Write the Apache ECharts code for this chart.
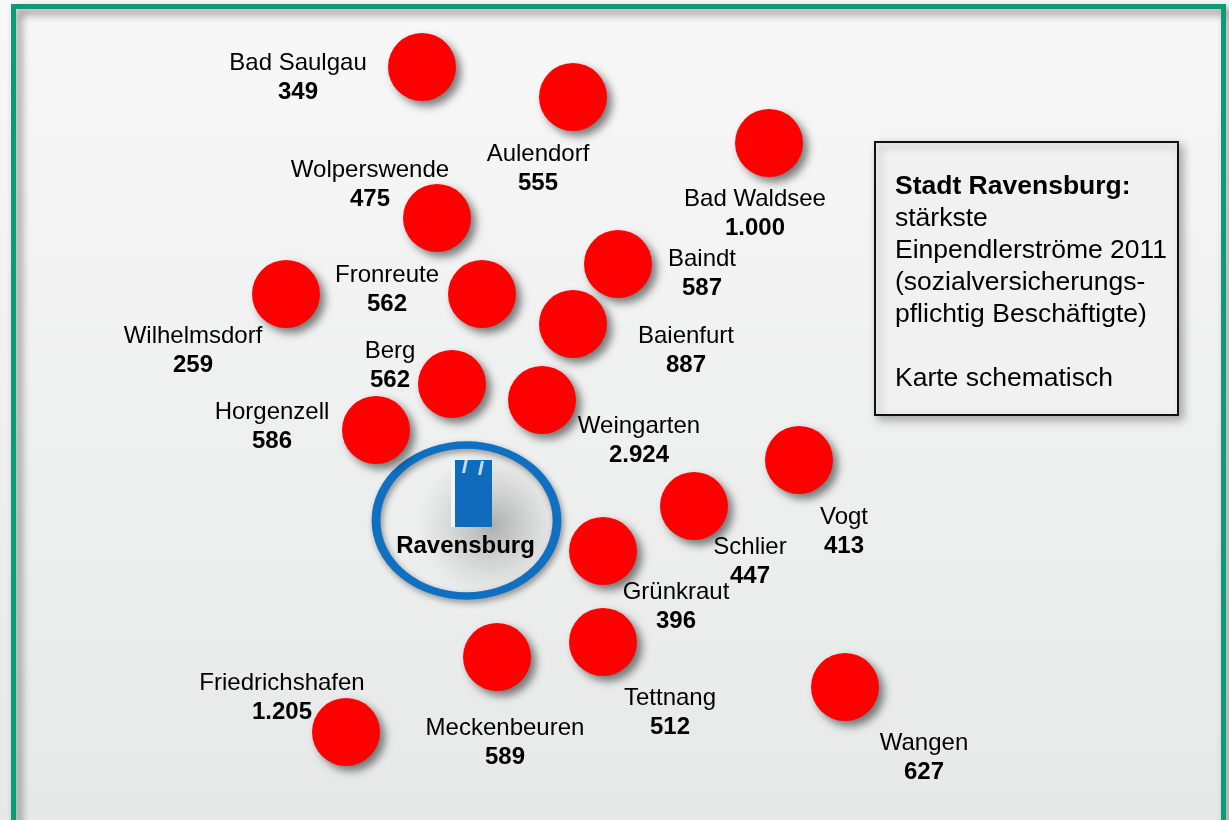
<!DOCTYPE html>
<html>
<head>
<meta charset="utf-8">
<style>
html, body { margin: 0; padding: 0; background: #f7f7f7; }
#chart { width: 1229px; height: 820px; }
</style>
<script src="https://cdn.jsdelivr.net/npm/echarts@6/dist/echarts.min.js"></script>
</head>
<body>
<div id="chart"></div>
<script>
// Gemeinden, Einpendler 2011
const towns = ['Bad Saulgau', 'Aulendorf', 'Bad Waldsee', 'Wolperswende', 'Fronreute', 'Baindt', 'Wilhelmsdorf', 'Baienfurt', 'Berg', 'Weingarten', 'Horgenzell', 'Vogt', 'Schlier', 'Grünkraut', 'Meckenbeuren', 'Tettnang', 'Friedrichshafen', 'Wangen'];
const commuters = ['349', '555', '1.000', '475', '562', '587', '259', '887', '562', '2.924', '586', '413', '447', '396', '589', '512', '1.205', '627'];
// Kreise, schematische Kartenposition
const circleX = [422, 573, 769, 437, 482, 618, 286, 573, 452, 542, 376, 799, 694, 603, 497, 603, 346, 845];
const circleY = [67, 97, 143, 218, 294, 264, 294, 324, 384, 400, 430, 460, 506, 551, 657, 642, 732, 687];
// Beschriftung, Mitte des Namens
const labelX = [298, 538, 755, 370, 387, 702, 193, 686, 390, 639, 272, 844, 750, 676, 505, 670, 282, 924];
const labelY = [78, 169, 214, 185, 290, 274, 351, 351, 366, 441, 427, 532, 562, 607, 743, 713, 698, 758];

const infoLines = ['{b|Stadt Ravensburg:}', 'stärkste', 'Einpendlerströme 2011', '(sozialversicherungs-', 'pflichtig Beschäftigte)', '', 'Karte schematisch'];

const font = '"Liberation Sans", Arial, sans-serif';
const chart = echarts.init(document.getElementById('chart'));

// schräge Lichtstreifen am Turm
const glint = 'path://M3,0 L6,0 L3,12 L0,12 Z';

chart.setOption({
  animation: false,
  backgroundColor: new echarts.graphic.LinearGradient(0, 0, 0, 1, [
    { offset: 0, color: '#f8f8f8' },
    { offset: 1, color: '#e7e8e8' }
  ]),
  grid: { left: 0, top: 0, width: 1229, height: 820 },
  xAxis: { type: 'value', min: 0, max: 1229, show: false },
  yAxis: { type: 'value', min: 0, max: 820, inverse: true, show: false },
  graphic: [
    // Rahmen, unten ausserhalb des Bildes
    {
      type: 'rect', z: -9, silent: true,
      shape: { x: 13.5, y: 6.5, width: 1210, height: 860 },
      style: {
        fill: null, stroke: '#0e9a78', lineWidth: 5,
        shadowColor: 'rgba(0,0,0,0.5)', shadowBlur: 9, shadowOffsetX: 5, shadowOffsetY: 5
      }
    },
    // Infokasten
    {
      type: 'rect', z: 5, silent: true,
      shape: { x: 875, y: 142, width: 303, height: 273 },
      style: {
        fill: '#f1f1f1', stroke: '#111', lineWidth: 2,
        shadowColor: 'rgba(0,0,0,0.3)', shadowBlur: 9, shadowOffsetX: 4, shadowOffsetY: 4
      }
    },
    {
      type: 'text', z: 6, silent: true, x: 895, y: 171,
      style: {
        text: infoLines.join('\n'),
        font: '26.5px ' + font,
        fill: '#000',
        lineHeight: 32,
        rich: { b: { fontWeight: 'bold', fontSize: 26.5, fontFamily: font, lineHeight: 32 } }
      }
    }
  ],
  series: [
    // Schatten hinter Ravensburg
    {
      type: 'scatter', silent: true, z: 1,
      data: [[492, 525]],
      symbol: 'circle', symbolSize: 150,
      itemStyle: {
        opacity: 1,
        color: new echarts.graphic.RadialGradient(0.5, 0.5, 0.5, [
          { offset: 0, color: 'rgba(110,110,110,0.5)' },
          { offset: 1, color: 'rgba(160,160,160,0)' }
        ])
      }
    },
    // Ring Ravensburg
    {
      type: 'scatter', silent: true, z: 2,
      data: [[466.5, 520.5]],
      symbol: 'circle', symbolSize: [181, 151],
      itemStyle: {
        opacity: 1, color: 'transparent', borderColor: '#0f6fc0', borderWidth: 8,
        shadowColor: 'rgba(0,0,0,0.4)', shadowBlur: 6, shadowOffsetX: 2, shadowOffsetY: 3
      }
    },
    // Turm, heller Rand links
    {
      type: 'scatter', silent: true, z: 3,
      data: [[453, 493.5]],
      symbol: 'rect', symbolSize: [4, 67],
      itemStyle: { opacity: 1, color: '#f2f4f6' }
    },
    {
      type: 'scatter', silent: true, z: 3,
      data: [[473.5, 493.5]],
      symbol: 'rect', symbolSize: [37, 67],
      itemStyle: { opacity: 1, color: '#0f6cbd' },
      label: {
        show: true, position: 'inside', offset: [-8, 53],
        formatter: 'Ravensburg',
        fontFamily: font, fontSize: 24, fontWeight: 'bold', color: '#000'
      }
    },
    {
      type: 'scatter', silent: true, z: 3,
      data: [[465, 466], [481, 468]],
      symbol: glint, symbolSize: [6, 14],
      itemStyle: { opacity: 0.8, color: '#f4f6f8' }
    },
    {
      name: 'Einpendler',
      type: 'scatter', z: 4,
      data: circleX.map((x, i) => [x, circleY[i]]),
      symbol: 'circle', symbolSize: 68,
      itemStyle: {
        opacity: 1, color: '#ff0000',
        shadowColor: 'rgba(0,0,0,0.5)', shadowBlur: 9, shadowOffsetX: 5, shadowOffsetY: 5
      }
    },
    {
      name: 'Beschriftung',
      type: 'scatter', z: 6, silent: true,
      data: labelX.map((x, i) => [x, labelY[i]]),
      symbolSize: 0,
      itemStyle: { opacity: 1 },
      label: {
        show: true, position: 'inside',
        formatter: p => towns[p.dataIndex] + '\n{v|' + commuters[p.dataIndex] + '}',
        fontFamily: font, fontSize: 24, color: '#000', lineHeight: 29, align: 'center',
        rich: { v: { fontFamily: font, fontSize: 24, fontWeight: 'bold', lineHeight: 29, color: '#000' } }
      }
    }
  ]
});
</script>
</body>
</html>
